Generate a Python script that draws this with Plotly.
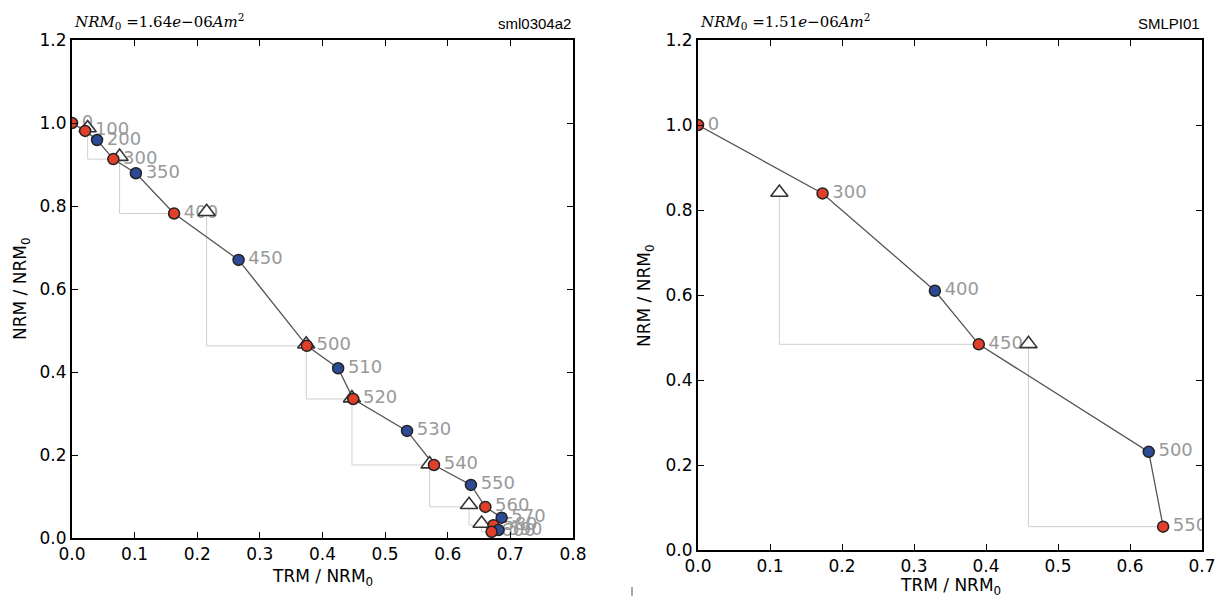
import plotly.graph_objects as go

# ---------------- data: left specimen (sml0304a2) ----------------
temps_a = [0, 100, 200, 300, 350, 400, 450, 500, 510, 520, 530, 540, 550, 560, 570, 580, 590, 600]
trm_a = [0.0, 0.021, 0.040, 0.066, 0.102, 0.163, 0.266, 0.375, 0.425, 0.449, 0.535, 0.578,
         0.637, 0.660, 0.686, 0.673, 0.681, 0.670]
nrm_a = [1.0, 0.981, 0.959, 0.913, 0.879, 0.782, 0.670, 0.463, 0.409, 0.335, 0.258, 0.176,
         0.128, 0.075, 0.049, 0.031, 0.019, 0.015]
step_a = ["I", "I", "Z", "I", "Z", "I", "Z", "I", "Z", "I", "Z", "I", "Z", "I", "Z", "I", "Z", "I"]
check_trm_a = [0.025, 0.076, 0.215, 0.374, 0.447, 0.571, 0.634, 0.654]
check_nrm_a = [0.988, 0.919, 0.786, 0.467, 0.337, 0.178, 0.080, 0.035]
check_ref_a = [300, 400, 500, 520, 540, 560, 580, 600]

# ---------------- data: right specimen (SMLPI01) ----------------
temps_b = [0, 300, 400, 450, 500, 550]
trm_b = [0.0, 0.173, 0.329, 0.390, 0.626, 0.646]
nrm_b = [1.0, 0.839, 0.610, 0.484, 0.231, 0.055]
step_b = ["I", "I", "Z", "I", "Z", "I"]
check_trm_b = [0.113, 0.459]
check_nrm_b = [0.841, 0.485]
check_ref_b = [450, 550]

nrm0_a = "1.64"
nrm0_b = "1.51"
name_a = "sml0304a2"
name_b = "SMLPI01"
x_title = "TRM / NRM<sub>0</sub>"
y_title = "NRM / NRM<sub>0</sub>"

RED = "#e0402a"
BLUE = "#2d4a96"
EDGE = "#222222"
FONT = "DejaVu Sans"

fig = go.Figure()


def add_panel(temps, trm, nrm, steps, ctrm, cnrm, cref, xa, ya):
    # pTRM check lines
    for cx, cy, ref in zip(ctrm, cnrm, cref):
        i = temps.index(ref)
        fig.add_trace(go.Scatter(x=[cx, cx, trm[i]], y=[cy, nrm[i], nrm[i]], mode="lines",
                                 line=dict(color="#cfcfcf", width=1), hoverinfo="skip",
                                 showlegend=False, xaxis=xa, yaxis=ya))
    # connecting line
    fig.add_trace(go.Scatter(x=trm, y=nrm, mode="lines", line=dict(color="#555555", width=1.3),
                             showlegend=False, xaxis=xa, yaxis=ya))
    # labels
    fig.add_trace(go.Scatter(x=trm, y=nrm, mode="markers+text", text=[str(t) for t in temps],
                             textposition="middle right",
                             textfont=dict(family=FONT, size=18, color="#999999"),
                             marker=dict(size=14, opacity=0), hoverinfo="skip",
                             showlegend=False, xaxis=xa, yaxis=ya))
    # triangles
    fig.add_trace(go.Scatter(x=ctrm, y=cnrm, mode="markers",
                             marker=dict(symbol="triangle-up", size=15, color="white",
                                         line=dict(color="#333333", width=1.6)),
                             showlegend=False, xaxis=xa, yaxis=ya))
    # circles
    cols = [RED if s == "I" else BLUE for s in steps]
    fig.add_trace(go.Scatter(x=trm, y=nrm, mode="markers",
                             marker=dict(symbol="circle", size=11, color=cols,
                                         line=dict(color=EDGE, width=1.5)),
                             showlegend=False, xaxis=xa, yaxis=ya))


add_panel(temps_a, trm_a, nrm_a, step_a, check_trm_a, check_nrm_a, check_ref_a, "x", "y")
add_panel(temps_b, trm_b, nrm_b, step_b, check_trm_b, check_nrm_b, check_ref_b, "x2", "y2")

# body margin is removed by a post script, so figure coordinates equal page coordinates
W, H = 1225, 597


def px(v):
    return v / W


def py(v):
    return 1 - v / H


axis_common = dict(showgrid=False, zeroline=False, ticks="inside", ticklen=6, tickwidth=1,
                   tickcolor="black", showline=True, linewidth=2, linecolor="black",
                   mirror="allticks", tickformat=".1f", automargin=False,
                   tickfont=dict(family=FONT, size=17, color="black"))

fig.update_layout(
    width=W, height=H, margin=dict(l=0, r=0, t=0, b=0),
    paper_bgcolor="white", plot_bgcolor="white",
    xaxis=dict(domain=[px(72), px(573)], range=[0, 0.8], dtick=0.1, anchor="y", **axis_common),
    yaxis=dict(domain=[py(538), py(40)], range=[0, 1.2], dtick=0.2, anchor="x", **axis_common),
    xaxis2=dict(domain=[px(698), px(1202)], range=[0, 0.7], dtick=0.1, anchor="y2", **axis_common),
    yaxis2=dict(domain=[py(550), py(40)], range=[0, 1.2], dtick=0.2, anchor="x2", **axis_common),
)

title_font = dict(family=FONT, size=17, color="black")
# axis titles
for cx, cy in [(322, 577), (950, 586)]:
    fig.add_annotation(xref="paper", yref="paper", x=px(cx), y=py(cy), xanchor="center",
                       yanchor="middle", showarrow=False, text=x_title, font=title_font)
for cx, cy in [(21, 289), (645, 296)]:
    fig.add_annotation(xref="paper", yref="paper", x=px(cx), y=py(cy), xanchor="center",
                       yanchor="middle", showarrow=False, text=y_title, font=title_font,
                       textangle=-90)

math_font = dict(family="DejaVu Serif", size=15, color="black")
for x0, x1, val, name in [(72, 573, nrm0_a, name_a), (698, 1202, nrm0_b, name_b)]:
    fig.add_annotation(xref="paper", yref="paper", x=px(x0), y=py(34),
                       xanchor="left", yanchor="bottom", showarrow=False,
                       text=f"<i>NRM</i><sub>0</sub> ={val}<i>e</i>\u221206<i>Am</i><sup>2</sup>",
                       font=math_font)
    fig.add_annotation(xref="paper", yref="paper", x=px(x1), y=py(34),
                       xanchor="right", yanchor="bottom", showarrow=False, text=name,
                       font=dict(family="Liberation Sans", size=15, color="black"))

# small stray tick mark at bottom
fig.add_shape(type="line", xref="paper", yref="paper", x0=px(632), x1=px(632),
              y0=py(596), y1=py(587), line=dict(color="#555555", width=1))

fig.write_html("out.html", config={"displayModeBar": False},
               post_script="document.body.style.margin='0px';"
                           "document.body.style.overflow='hidden';")
